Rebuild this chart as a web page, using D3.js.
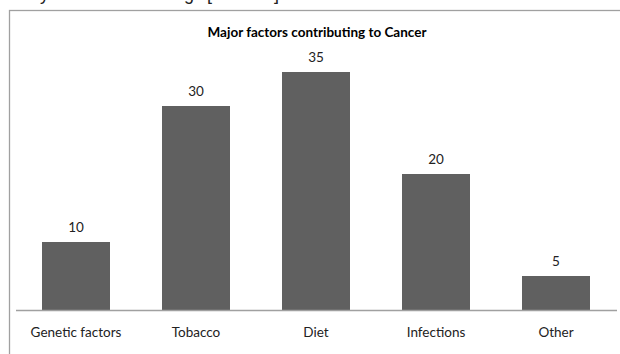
<!DOCTYPE html>
<html><head><meta charset="utf-8">
<script src="https://cdn.jsdelivr.net/npm/d3@7"></script>
<style>body{margin:0;background:#fff;overflow:hidden}</style>
</head><body>
<script>
const categories = ["Genetic factors", "Tobacco", "Diet", "Infections", "Other"];
const values = [10, 30, 35, 20, 5];
const title = "Major factors contributing to Cancer";

const W = 620, H = 354;
const svg = d3.select("body").append("svg").attr("width", W).attr("height", H);
const font = "Lato, 'Open Sans', sans-serif";

// clipped caption fragments above the chart box
const frag = svg.append("g").attr("font-family", "'Liberation Sans', sans-serif").attr("font-size", 18).attr("fill", "#222");
[["y", 40], ["g", 184], ["[", 207], ["]", 274]].forEach(([t, x]) =>
  frag.append("text").attr("x", x).attr("y", 0).text(t));

// chart border
svg.append("rect").attr("x", 9.5).attr("y", 10.5).attr("width", W).attr("height", H)
  .attr("fill", "#fff").attr("stroke", "#a0a0a0").attr("stroke-width", 1.3);

svg.append("text").attr("x", 317).attr("y", 37).attr("text-anchor", "middle")
  .attr("font-family", font).attr("font-weight", "bold").attr("font-size", 13.5)
  .attr("fill", "#000").text(title);

const x = d3.scaleBand().domain(categories).range([16, 616]).paddingInner(52/120).paddingOuter(26/120);
const y = d3.scaleLinear().domain([0, 40]).range([310, 38]);

svg.selectAll("rect.bar").data(values).enter().append("rect").attr("class", "bar")
  .attr("x", (d, i) => x(categories[i])).attr("width", x.bandwidth())
  .attr("y", d => y(d)).attr("height", d => y(0) - y(d)).attr("fill", "#606060");

svg.selectAll("text.val").data(values).enter().append("text").attr("class", "val")
  .attr("x", (d, i) => x(categories[i]) + x.bandwidth() / 2).attr("y", d => y(d) - 10)
  .attr("text-anchor", "middle").attr("font-family", font).attr("font-size", 13.5)
  .attr("fill", "#222").text(d => d);

const ax = svg.append("g").attr("transform", `translate(0,${y(0)})`)
  .call(d3.axisBottom(x).tickSize(0).tickPadding(17));
ax.select(".domain").attr("stroke", "#a0a0a0").attr("stroke-width", 1.3).attr("d", "M16,0.5H617");
ax.selectAll("text").attr("font-family", font).attr("font-size", 13.5).attr("fill", "#222");
</script>
</body></html>
